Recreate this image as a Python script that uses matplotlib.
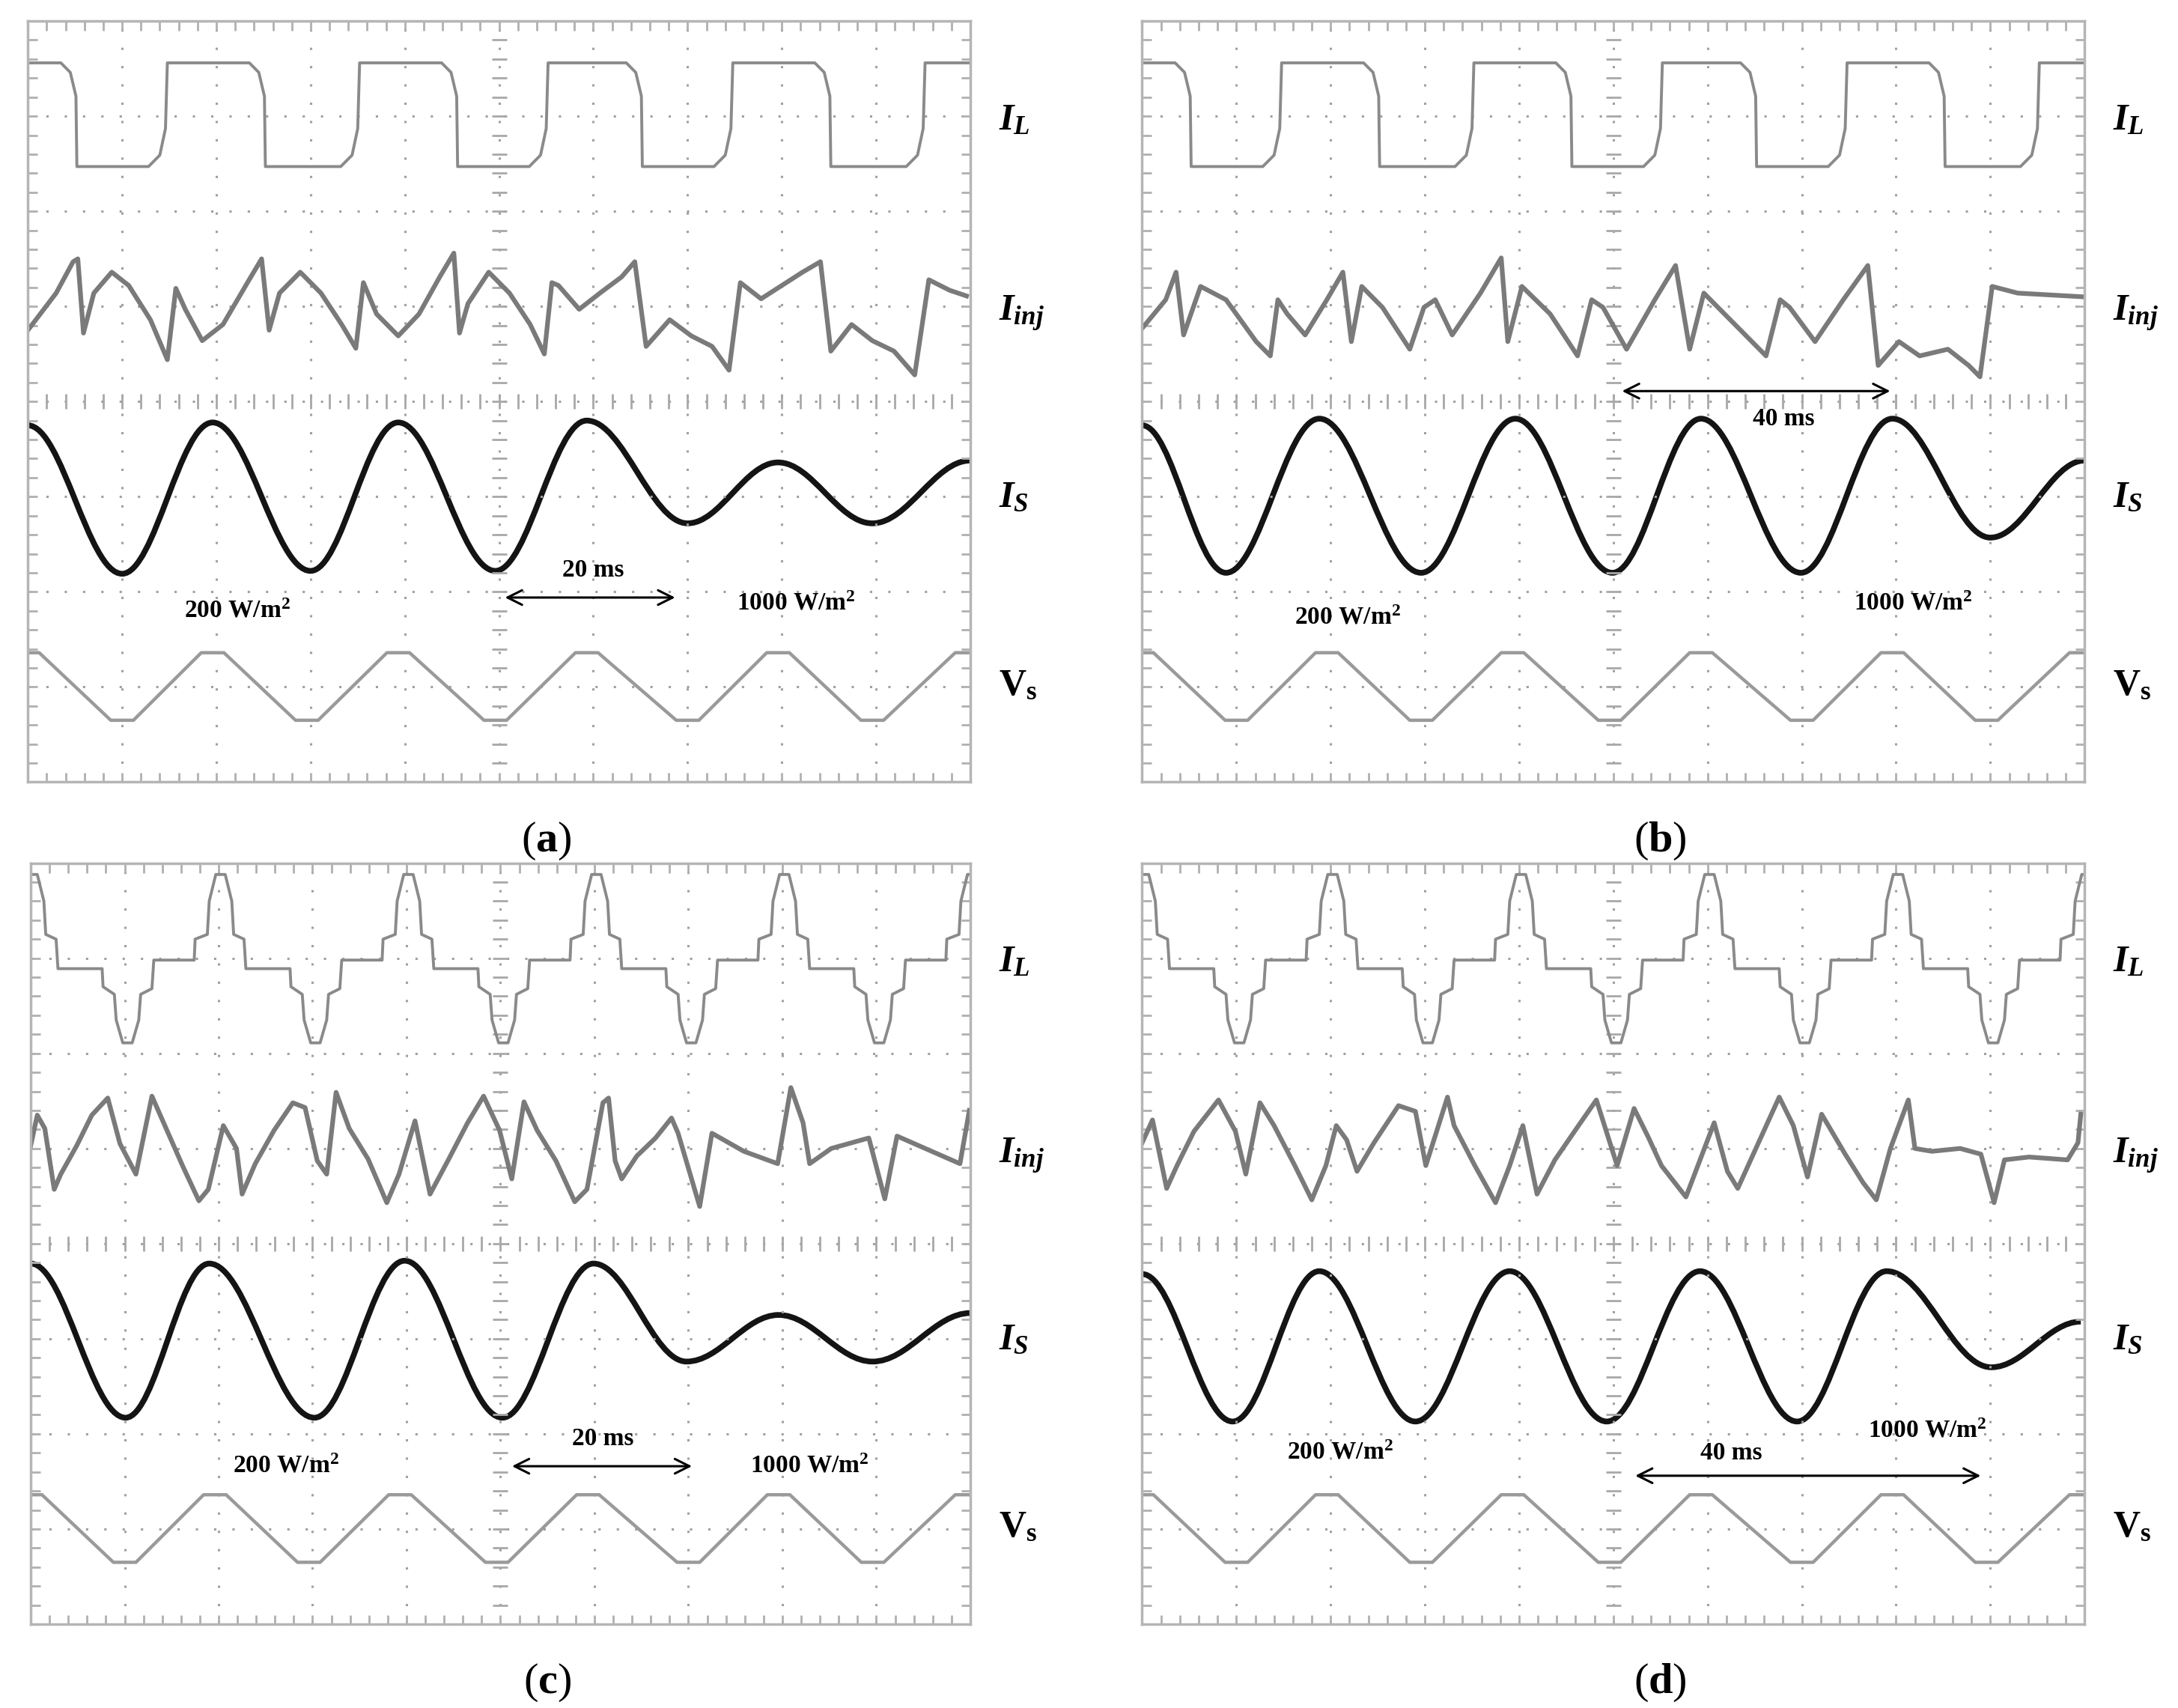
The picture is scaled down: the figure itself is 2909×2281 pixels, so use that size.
import matplotlib
matplotlib.use('Agg')
import matplotlib.pyplot as plt
import numpy as np
from matplotlib.path import Path
from matplotlib.patches import PathPatch

plt.rcParams['mathtext.fontset'] = 'custom'
plt.rcParams['mathtext.it'] = 'Liberation Serif:italic:bold'
plt.rcParams['mathtext.rm'] = 'Liberation Serif:bold'
plt.rcParams['mathtext.bf'] = 'Liberation Serif:bold'

# all values in oscilloscope divisions: x 0..10, y 0..8 (bottom = 0)

# load current, square wave (a, b)
il_sq_fall = [0.52, 2.52, 4.56, 6.52, 8.52]
il_sq_rise = [1.48, 3.52, 5.52, 7.48, 9.52]
il_sq_hi, il_sq_lo = 7.56, 6.47

# load current, pulse wave (c, d)
il_pos_centers = [0.02, 2.02, 4.02, 6.02, 8.02, 10.02]
il_neg_centers = [1.03, 3.03, 5.03, 7.03, 9.03]
il_base_a, il_base_b = 6.98, 6.89

# injected current
inj_a_x = [0, 0.30, 0.48, 0.53, 0.59, 0.70, 0.89, 1.07, 1.30, 1.48, 1.57, 1.67, 1.85, 2.07, 2.33, 2.48, 2.56,
           2.67, 2.89, 3.11, 3.33, 3.48, 3.56, 3.70, 3.93, 4.15, 4.37, 4.52, 4.58, 4.67, 4.89, 5.11, 5.33, 5.48,
           5.56, 5.63, 5.85, 6.07, 6.30, 6.44, 6.56, 6.81, 7.04, 7.26, 7.44, 7.56, 7.78, 8.0, 8.22, 8.41, 8.52,
           8.74, 8.96, 9.19, 9.41, 9.56, 9.78, 9.96]
inj_a_y = [4.75, 5.14, 5.47, 5.5, 4.72, 5.14, 5.36, 5.22, 4.86, 4.44, 5.19, 4.97, 4.64, 4.81, 5.25, 5.5, 4.75,
           5.14, 5.36, 5.14, 4.81, 4.56, 5.25, 4.92, 4.69, 4.92, 5.31, 5.56, 4.72, 5.03, 5.36, 5.14, 4.81, 4.5,
           5.25, 5.22, 4.97, 5.14, 5.31, 5.47, 4.58, 4.86, 4.69, 4.58, 4.33, 5.25, 5.08, 5.22, 5.36, 5.47, 4.53,
           4.81, 4.64, 4.53, 4.28, 5.28, 5.17, 5.11]
inj_b_x = [0, 0.25, 0.36, 0.44, 0.62, 0.89, 1.21, 1.36, 1.44, 1.54, 1.73, 1.96, 2.13, 2.22, 2.33, 2.55, 2.84,
           2.99, 3.11, 3.29, 3.59, 3.81, 3.88, 4.03, 4.33, 4.62, 4.77, 4.89, 5.14, 5.44, 5.66, 5.81, 5.96, 6.25,
           6.62, 6.77, 6.87, 7.14, 7.44, 7.70, 7.81, 8.03, 8.25, 8.55, 8.77, 8.89, 9.02, 9.29, 10.0]
inj_b_y = [4.77, 5.07, 5.36, 4.70, 5.21, 5.07, 4.63, 4.48, 5.07, 4.92, 4.70, 5.07, 5.36, 4.63, 5.21, 4.99, 4.55,
           4.99, 5.07, 4.70, 5.14, 5.51, 4.63, 5.21, 4.92, 4.48, 5.07, 4.99, 4.55, 5.07, 5.43, 4.55, 5.14, 4.85,
           4.48, 5.07, 4.99, 4.63, 5.07, 5.43, 4.38, 4.63, 4.48, 4.55, 4.38, 4.26, 5.21, 5.14, 5.10]
inj_c_x = [0, 0.07, 0.15, 0.25, 0.32, 0.49, 0.65, 0.82, 0.95, 1.12, 1.29, 1.45, 1.62, 1.79, 1.89, 2.05, 2.19,
           2.25, 2.39, 2.59, 2.79, 2.92, 3.05, 3.15, 3.25, 3.39, 3.59, 3.79, 3.92, 4.09, 4.25, 4.45, 4.65, 4.82,
           4.99, 5.12, 5.25, 5.39, 5.59, 5.79, 5.92, 6.09, 6.15, 6.22, 6.29, 6.45, 6.65, 6.82, 6.89, 7.12, 7.25,
           7.59, 7.95, 8.09, 8.22, 8.29, 8.52, 8.92, 9.09, 9.22, 9.52, 9.89, 9.99]
inj_c_y = [5.03, 5.35, 5.21, 4.57, 4.73, 5.03, 5.35, 5.53, 5.05, 4.73, 5.55, 5.19, 4.81, 4.45, 4.57, 5.24, 5.0,
           4.52, 4.84, 5.19, 5.48, 5.43, 4.87, 4.73, 5.59, 5.21, 4.89, 4.43, 4.73, 5.29, 4.52, 4.89, 5.27, 5.55,
           5.19, 4.68, 5.49, 5.19, 4.87, 4.44, 4.57, 5.48, 5.53, 4.87, 4.68, 4.92, 5.11, 5.32, 5.16, 4.39, 5.16,
           4.97, 4.84, 5.64, 5.27, 4.84, 5.0, 5.11, 4.47, 5.13, 5.0, 4.84, 5.4]
inj_d_x = [0, 0.11, 0.26, 0.37, 0.55, 0.81, 0.99, 1.10, 1.25, 1.40, 1.62, 1.80, 1.95, 2.06, 2.17, 2.28, 2.46,
           2.72, 2.90, 3.01, 3.24, 3.31, 3.53, 3.75, 3.90, 4.04, 4.19, 4.38, 4.63, 4.82, 5.04, 5.22, 5.37, 5.51,
           5.77, 5.92, 6.07, 6.21, 6.32, 6.54, 6.76, 6.91, 7.06, 7.21, 7.46, 7.65, 7.79, 7.94, 8.13, 8.20, 8.38,
           8.68, 8.90, 9.04, 9.15, 9.41, 9.82, 9.93, 9.96]
inj_d_y = [5.06, 5.30, 4.58, 4.82, 5.18, 5.51, 5.18, 4.73, 5.48, 5.24, 4.82, 4.46, 4.82, 5.24, 5.09, 4.76, 5.06,
           5.45, 5.39, 4.82, 5.54, 5.24, 4.82, 4.43, 4.82, 5.24, 4.52, 4.88, 5.24, 5.51, 4.82, 5.42, 5.12, 4.82,
           4.49, 4.88, 5.27, 4.76, 4.58, 5.06, 5.54, 5.24, 4.70, 5.36, 4.94, 4.64, 4.46, 5.00, 5.51, 5.00, 4.97,
           5.00, 4.94, 4.43, 4.88, 4.91, 4.88, 5.06, 5.36]

# source current: start point, then successive extrema
is_a_x = [0, 1.0, 1.96, 3.0, 3.93, 4.96, 5.93, 7.0, 7.96, 8.96, 10.0]
is_a_y = [3.75, 2.19, 3.78, 2.22, 3.78, 2.22, 3.80, 2.72, 3.36, 2.72, 3.38]
is_b_x = [0, 0.89, 1.88, 2.96, 3.96, 4.99, 5.93, 6.99, 7.96, 9.0, 10.0]
is_b_y = [3.75, 2.2, 3.82, 2.2, 3.82, 2.2, 3.82, 2.2, 3.82, 2.57, 3.38]
is_c_x = [0, 1.01, 1.90, 3.02, 3.98, 5.02, 5.99, 6.98, 7.96, 8.96, 10.0]
is_c_y = [3.79, 2.17, 3.79, 2.17, 3.82, 2.17, 3.79, 2.76, 3.25, 2.76, 3.27]
is_d_x = [0, 0.96, 1.88, 2.90, 3.90, 4.93, 5.92, 6.95, 7.90, 9.01, 9.96]
is_d_y = [3.68, 2.13, 3.71, 2.13, 3.71, 2.13, 3.71, 2.13, 3.71, 2.70, 3.18]

# source voltage extrema
vs_x = [0, 1.0, 1.96, 2.96, 3.93, 4.96, 5.93, 7.0, 7.96, 8.96, 9.96]
vs_y = [1.36, 0.65, 1.36, 0.65, 1.36, 0.65, 1.36, 0.65, 1.36, 0.65, 1.36]

panels = [
    dict(tag='a', il='sq', inj=(inj_a_x, inj_a_y), is_=(is_a_x, is_a_y), span='20 ms',
         span_txt=(6.0, 2.23), arrow=(5.04, 6.89, 1.94), w200=(2.22, 1.8), w1000=(8.15, 1.88)),
    dict(tag='b', il='sq', inj=(inj_b_x, inj_b_y), is_=(is_b_x, is_b_y), span='40 ms',
         span_txt=(6.81, 3.82), arrow=(5.07, 7.96, 4.11), w200=(2.18, 1.73), w1000=(8.18, 1.88)),
    dict(tag='c', il='pulse', inj=(inj_c_x, inj_c_y), is_=(is_c_x, is_c_y), span='20 ms',
         span_txt=(6.09, 1.95), arrow=(5.10, 7.06, 1.66), w200=(2.72, 1.66), w1000=(8.29, 1.66)),
    dict(tag='d', il='pulse', inj=(inj_d_x, inj_d_y), is_=(is_d_x, is_d_y), span='40 ms',
         span_txt=(6.25, 1.8), arrow=(5.21, 8.92, 1.56), w200=(2.1, 1.8), w1000=(8.33, 2.03)),
]

rects = {'a': [0.0128, 0.5421, 0.4327, 0.4456], 'b': [0.5244, 0.5421, 0.4327, 0.4456],
         'c': [0.0141, 0.0491, 0.4314, 0.4456], 'd': [0.5244, 0.0491, 0.4327, 0.4456]}

GRAY = '#8a8a8a'
serif = ['Liberation Serif', 'DejaVu Serif']


def square_trace():
    pts = [(0, il_sq_hi)]
    for f in il_sq_fall:
        pts += [(f - 0.17, il_sq_hi), (f - 0.07, il_sq_hi - 0.1), (f - 0.01, il_sq_hi - 0.35), (f, il_sq_lo)]
    for r in il_sq_rise:
        pts += [(r - 0.2, il_sq_lo), (r - 0.08, il_sq_lo + 0.12), (r - 0.02, il_sq_lo + 0.4), (r, il_sq_hi)]
    pts.append((10, il_sq_hi))
    pts.sort()
    return zip(*pts)


def pulse_trace():
    pts = []
    for c in il_pos_centers:
        for dx, y in [(-0.28, il_base_a), (-0.27, 7.2), (-0.14, 7.25), (-0.12, 7.6), (-0.05, 7.88),
                      (0.05, 7.88), (0.12, 7.6), (0.14, 7.25), (0.25, 7.2), (0.27, il_base_b)]:
            pts.append((c + dx, y))
    for c in il_neg_centers:
        for dx, y in [(-0.27, il_base_b), (-0.26, 6.7), (-0.14, 6.62), (-0.12, 6.35), (-0.05, 6.11),
                      (0.05, 6.11), (0.12, 6.35), (0.14, 6.62), (0.26, 6.68), (0.28, il_base_a)]:
            pts.append((c + dx, y))
    pts.sort()
    return zip(*pts)


def smooth_path(xs, ys):
    # cubic segments with flat tangents at each extremum
    verts = [(xs[0], ys[0])]
    codes = [Path.MOVETO]
    for i in range(len(xs) - 1):
        dx = xs[i + 1] - xs[i]
        verts += [(xs[i] + 0.364 * dx, ys[i]), (xs[i + 1] - 0.364 * dx, ys[i + 1]), (xs[i + 1], ys[i + 1])]
        codes += [Path.CURVE4] * 3
    return Path(verts, codes)


fig = plt.figure(figsize=(29.09, 22.81), dpi=100)

for p in panels:
    ax = fig.add_axes(rects[p['tag']])
    ax.set_xlim(0, 10)
    ax.set_ylim(0, 8)
    for s in ax.spines.values():
        s.set_color('#b5b5b5')
        s.set_linewidth(2.5)
    ax.set_xticks(np.arange(0, 10.01, 1))
    ax.set_yticks(np.arange(0, 8.01, 1))
    ax.set_xticks(np.arange(0, 10.01, 0.2), minor=True)
    ax.set_yticks(np.arange(0, 8.01, 0.2), minor=True)
    ax.tick_params(which='both', direction='in', top=True, right=True, length=9, width=2,
                   color='#b0b0b0', labelbottom=False, labelleft=False)
    ax.grid(True, which='major', color='#a0a0a0', linestyle=(0, (1, 7)), linewidth=2.2)
    # centre cross with minor ticks
    mt = np.arange(0, 10.01, 0.2)
    ax.plot(mt, np.full(len(mt), 4.0), linestyle='none', marker='|', markersize=14, mew=2, color='#a8a8a8')
    mty = np.arange(0, 8.01, 0.2)
    ax.plot(np.full(len(mty), 5.0), mty, linestyle='none', marker='_', markersize=14, mew=2, color='#a8a8a8')

    il_x, il_y = square_trace() if p['il'] == 'sq' else pulse_trace()
    ax.plot(list(il_x), list(il_y), color=GRAY, lw=2.8)
    ax.plot(p['inj'][0], p['inj'][1], color='#7a7a7a', lw=4.5)
    ax.add_patch(PathPatch(smooth_path(*p['is_']), fill=False, edgecolor='#141414', lw=5.5))
    vx, vy = [], []
    for x, y in zip(vs_x, vs_y):
        vx += [x - 0.12, x + 0.12]
        vy += [y, y]
    ax.plot(vx, vy, color='#9a9a9a', lw=3.2)

    tx, ty = p['span_txt']
    ax.text(tx, ty, p['span'], fontsize=24, fontweight='bold', family=serif, ha='center', va='center')
    x0, x1, ya = p['arrow']
    ax.annotate('', xy=(x0, ya), xytext=(x1, ya),
                arrowprops=dict(arrowstyle='<->', lw=2.2, color='black', mutation_scale=35))
    ax.text(*p['w200'], '200 W/m$^2$', fontsize=24, fontweight='bold', family=serif,
            ha='center', va='center')
    ax.text(*p['w1000'], '1000 W/m$^2$', fontsize=24, fontweight='bold', family=serif,
            ha='center', va='center')

    # trace labels outside right edge
    for y, lab in [(6.97, '$I_L$'), (4.92, '$I_{inj}$'), (3.0, '$I_S$'), (1.03, '$\\mathrm{V_s}$')]:
        ax.text(10.3, y, lab, fontsize=36, ha='left', va='center', clip_on=False)

    ax.text(5.5, -0.62, '($\\mathbf{' + p['tag'] + '}$)', fontsize=42, family=serif,
            ha='center', va='center', clip_on=False)

fig.savefig('out.png', dpi=100, facecolor='white')
